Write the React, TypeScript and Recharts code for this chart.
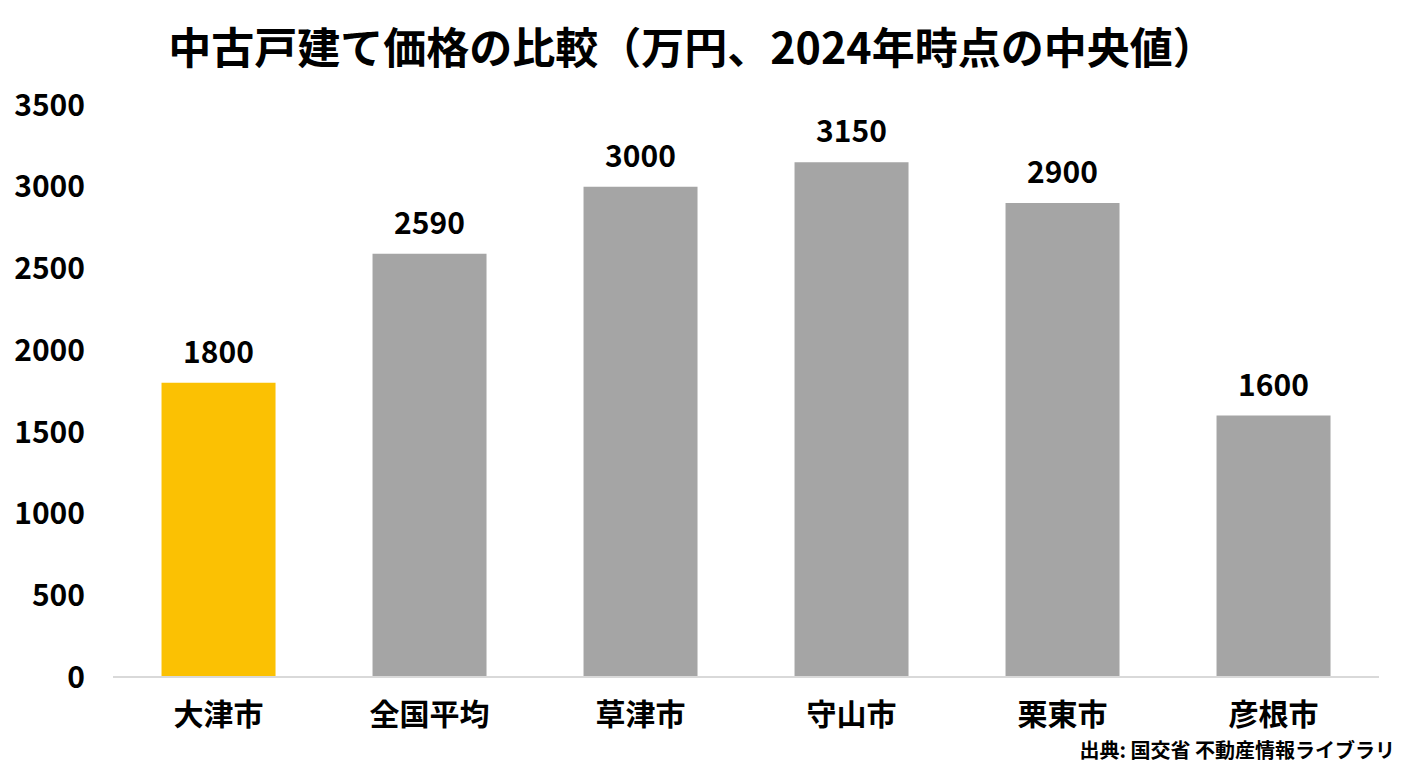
import { Bar, BarChart, Cell, LabelList, XAxis, YAxis } from 'recharts'

const cities = ['大津市', '全国平均', '草津市', '守山市', '栗東市', '彦根市']
const prices = [1800, 2590, 3000, 3150, 2900, 1600]
const yTicks = [0, 500, 1000, 1500, 2000, 2500, 3000, 3500]
const highlightCity = '大津市'

const title = '中古戸建て価格の比較（万円、2024年時点の中央値）'
const source = '出典: 国交省 不動産情報ライブラリ'

const data = cities.map((city, i) => ({ city, price: prices[i] }))

const font = '"Noto Sans CJK JP", "Noto Sans", sans-serif'
const tickStyle = { fontSize: 30, fontWeight: 700, fill: '#000', fontFamily: font }

export default function App() {
  return (
    <div
      style={{
        position: 'absolute',
        left: 0,
        top: 0,
        width: 1408,
        height: 768,
        background: '#fff',
        fontFamily: font,
      }}
    >
      <div
        style={{
          position: 'absolute',
          left: 0,
          top: 16,
          width: 1384,
          textAlign: 'center',
          fontSize: 43,
          fontWeight: 700,
          lineHeight: '58px',
          color: '#000',
          whiteSpace: 'nowrap',
        }}
      >
        {title}
      </div>
      <BarChart
        width={1408}
        height={768}
        data={data}
        margin={{ top: 105, right: 29, left: 0, bottom: 31 }}
        barCategoryGap="23%"
      >
        <YAxis
          type="number"
          domain={[0, 3500]}
          ticks={yTicks}
          width={113}
          axisLine={false}
          tickLine={false}
          tickSize={0}
          tickMargin={28}
          tick={tickStyle}
        />
        <XAxis
          dataKey="city"
          height={60}
          axisLine={{ stroke: '#d9d9d9', strokeWidth: 2 }}
          tickLine={false}
          tickSize={0}
          tickMargin={27}
          tick={tickStyle}
        />
        <Bar dataKey="price" isAnimationActive={false}>
          {data.map((d) => (
            <Cell key={d.city} fill={d.city === highlightCity ? '#FBC103' : '#A5A5A5'} />
          ))}
          <LabelList dataKey="price" position="top" offset={20} style={tickStyle} />
        </Bar>
      </BarChart>
      <div
        style={{
          position: 'absolute',
          right: 13,
          top: 736,
          fontSize: 20,
          fontWeight: 700,
          lineHeight: '28px',
          color: '#000',
        }}
      >
        {source}
      </div>
    </div>
  )
}
